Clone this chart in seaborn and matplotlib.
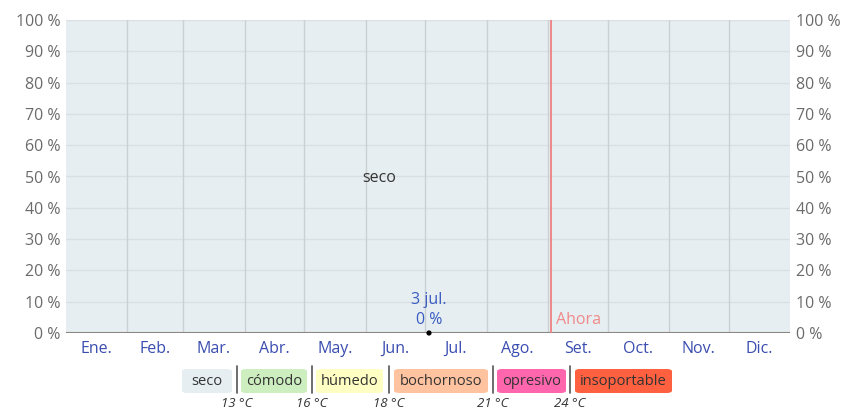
import matplotlib
matplotlib.use("Agg")
import matplotlib.pyplot as plt
from matplotlib.patches import FancyBboxPatch
import seaborn as sns
import numpy as np
import pandas as pd

# ---- data ----
months = ["Ene.", "Feb.", "Mar.", "Abr.", "May.", "Jun.", "Jul.", "Ago.", "Set.", "Oct.", "Nov.", "Dic."]
month_days = [31, 28, 31, 30, 31, 30, 31, 31, 30, 31, 30, 31]
yticks = [0, 10, 20, 30, 40, 50, 60, 70, 80, 90, 100]
ytick_labels = ["0 %", "10 %", "20 %", "30 %", "40 %", "50 %", "60 %", "70 %", "80 %", "90 %", "100 %"]
categories = ["seco", "cómodo", "húmedo", "bochornoso", "opresivo", "insoportable"]
cat_colors = ["#e6eef1", "#cdeebf", "#ffffc4", "#ffc3a0", "#ff66ad", "#ff6040"]
thresholds = ["13 °C", "16 °C", "18 °C", "21 °C", "24 °C"]
# percent of time in each comfort level across the year (all dry)
year_days = [0, 365]
pct_seco = [100, 100]
pct_humid = [0, 0]
seco_label_day = 158
highlight_day = 183
highlight_label = "3 jul."
highlight_value = 0
now_day = 244.5

sns.set_style("white")
plt.rcParams["font.family"] = ["Open Sans", "DejaVu Sans"]

fig = plt.figure(figsize=(8.45, 4.11), dpi=100)
W, H = 845, 411
L, R, T, B = 66, 790, 20, 333
ax = fig.add_axes([L / W, 1 - B / H, (R - L) / W, (B - T) / H])

# seco band
ax.fill_between(year_days, pct_humid, pct_seco, color=cat_colors[0], lw=0, zorder=0)

# grid
for y in yticks[1:]:
    ax.axhline(y, color="#d9dfe2", lw=1, zorder=1)
bounds = np.cumsum([0] + month_days)
for b in bounds[1:-1]:
    ax.axvline(b, color="#cbd0d3", lw=1, zorder=1)
ax.axhline(0, color="#8c8680", lw=1.5, zorder=3)

# now line
ax.axvline(now_day, color="#f08080", lw=1.3, zorder=4)
ax.text(now_day + 2.5, 1.5, "Ahora", color="#f08a8a", fontsize=11.5, ha="left", va="bottom", zorder=5)

# seco label
ax.text(seco_label_day, 49.5, "seco", color="#333333", fontsize=11.5, ha="center", va="center", zorder=5)

# highlight point
df = pd.DataFrame({"day": [highlight_day], "val": [highlight_value]})
sns.scatterplot(data=df, x="day", y="val", ax=ax, color="black", s=14, zorder=6, clip_on=False, edgecolor="none")
ax.text(highlight_day, 1.5, f"{highlight_label}\n{highlight_value} %", color="#3a5cc0",
        fontsize=11.5, ha="center", va="bottom", linespacing=1.35, zorder=6)

ax.set_xlim(0, 365)
ax.set_ylim(0, 100)
centers = (bounds[:-1] + bounds[1:]) / 2
ax.set_xticks(centers)
ax.set_xticklabels(months, color="#3a4db0", fontsize=11.5)
ax.set_yticks(yticks)
ax.set_yticklabels(ytick_labels, color="#6b6b6b", fontsize=11.5)
ax.tick_params(axis="x", length=0, pad=6)
ax.tick_params(axis="y", length=0, pad=4, labelright=True, right=False, left=False)
ax.set_xlabel("")
ax.set_ylabel("")
for s in ax.spines.values():
    s.set_visible(False)

# legend
box_x = [(182, 232), (241, 307), (316, 383), (394, 488), (497, 566), (575, 672)]
seps = [237, 312, 389, 493, 570]
by0, by1 = 369, 393
for (x0, x1), c, name in zip(box_x, cat_colors, categories):
    p = FancyBboxPatch((x0 / W, 1 - by1 / H), (x1 - x0) / W, (by1 - by0) / H,
                       boxstyle="round,pad=0,rounding_size=0.006", transform=fig.transFigure,
                       facecolor=c, edgecolor="none")
    fig.patches.append(p)
    fig.text((x0 + x1) / 2 / W, 1 - (by0 + by1) / 2 / H, name, ha="center", va="center",
             fontsize=10.5, color="#333333")
for sx, t in zip(seps, thresholds):
    fig.add_artist(plt.Line2D([sx / W, sx / W], [1 - 366 / H, 1 - 393 / H], color="#555555", lw=1.2))
    fig.text(sx / W, 1 - 403 / H, t, ha="center", va="center", fontsize=9.5, style="italic", color="#333333")

fig.savefig("out.png", dpi=100)
